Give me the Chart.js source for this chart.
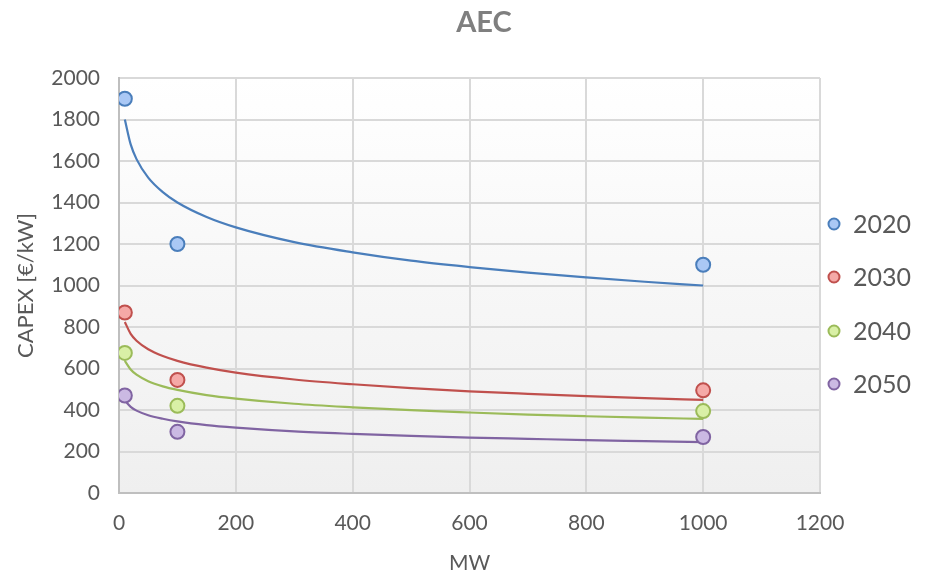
<!DOCTYPE html>
<html><head><meta charset="utf-8">
<script src="https://cdn.jsdelivr.net/npm/chart.js@4/dist/chart.umd.min.js"></script>
<style>html,body{margin:0;padding:0;background:#fff;}#wrap{width:948px;height:576px;}</style>
</head><body><div id="wrap"><canvas id="c" width="948" height="576"></canvas></div>
<script>
// Measured points (MW, CAPEX €/kW)
const capacityMW = [10, 100, 1000];
const capex2020 = [1900, 1200, 1100];
const capex2030 = [870, 545, 495];
const capex2040 = [675, 420, 395];
const capex2050 = [470, 295, 270];
// Trendline values
const trendX = [10, 20, 30, 50, 75, 100, 150, 200, 300, 400, 500, 600, 700, 800, 900, 1000];
const trend2020 = [1800, 1680, 1609, 1520, 1450, 1400, 1330, 1280, 1209, 1160, 1120, 1089, 1062, 1039, 1018, 1000];
const trend2030 = [824, 767, 734, 693, 660, 637, 604, 580, 547, 524, 505, 490, 478, 467, 457, 449];
const trend2040 = [637, 595, 570, 539, 514, 497, 472, 455, 430, 413, 399, 388, 378, 370, 363, 357];
const trend2050 = [445, 415, 397, 375, 358, 345, 327, 315, 297, 285, 275, 267, 261, 255, 250, 245];
const seriesLabels = ['2020', '2030', '2040', '2050'];
const xTicks = [0, 200, 400, 600, 800, 1000, 1200];
const yTicks = [0, 200, 400, 600, 800, 1000, 1200, 1400, 1600, 1800, 2000];
const chartTitle = 'AEC';

const lineColors = ['#4a7ebb', '#c0504d', '#9bbb59', '#8064a2'];
const fillColors = ['#aac8f5', '#f5a9a7', '#d9f0a6', '#cbb9e3'];
const pts = [capex2020, capex2030, capex2040, capex2050];
const trends = [trend2020, trend2030, trend2040, trend2050];

const datasets = [];
pts.forEach((arr, i) => {
  datasets.push({
    label: seriesLabels[i], type: 'scatter', order: 0,
    data: capacityMW.map((x, k) => ({x, y: arr[k]})),
    pointRadius: 7, pointHoverRadius: 7, pointBorderWidth: 2,
    backgroundColor: fillColors[i], borderColor: lineColors[i], showLine: false
  });
});
trends.forEach((arr, i) => {
  datasets.push({
    label: 'trend' + seriesLabels[i], type: 'scatter', order: 1,
    data: trendX.map((x, k) => ({x, y: arr[k]})),
    showLine: true, pointRadius: 0, borderWidth: 2.2, borderColor: lineColors[i],
    backgroundColor: lineColors[i], cubicInterpolationMode: 'monotone', fill: false
  });
});

const bgPlugin = {
  id: 'bg',
  beforeDraw(chart) {
    const {ctx, chartArea: a} = chart;
    const g = ctx.createLinearGradient(0, a.top, 0, a.bottom);
    g.addColorStop(0, '#ffffff');
    g.addColorStop(1, '#efefef');
    ctx.save(); ctx.fillStyle = g;
    ctx.fillRect(a.left, a.top, a.right - a.left, a.bottom - a.top);
    ctx.restore();
  }
};
const textPlugin = {
  id: 'texts',
  afterDraw(chart) {
    const ctx = chart.ctx;
    ctx.save();
    ctx.fillStyle = '#7f7f7f';
    ctx.font = 'bold 29px Lato';
    ctx.textAlign = 'center'; ctx.textBaseline = 'middle';
    ctx.fillText(chartTitle, 484, 23);
    const ys = [224, 277, 331, 384];
    seriesLabels.forEach((lab, i) => {
      ctx.beginPath();
      ctx.arc(834, ys[i], 5.5, 0, Math.PI * 2);
      ctx.fillStyle = fillColors[i]; ctx.fill();
      ctx.lineWidth = 2; ctx.strokeStyle = lineColors[i]; ctx.stroke();
      ctx.fillStyle = '#595959';
      ctx.font = '25px Lato';
      ctx.textBaseline = 'middle'; ctx.textAlign = 'left';
      ctx.fillText(lab, 853, ys[i] + 1);
    });
    ctx.restore();
  }
};

new Chart(document.getElementById('c'), {
  type: 'scatter',
  data: {datasets},
  options: {
    responsive: false, animation: false, devicePixelRatio: 1,
    layout: {padding: {left: 13, right: 128, top: 78, bottom: 0}},
    plugins: {legend: {display: false}, tooltip: {enabled: false}, title: {display: false}},
    scales: {
      x: {
        type: 'linear', min: 0, max: 1200,
        afterBuildTicks: ax => { ax.ticks = xTicks.map(v => ({value: v})); },
        afterFit: ax => { ax.height = 83; },
        grid: {color: '#d9d9d9', lineWidth: 2, drawTicks: false},
        border: {color: '#bfbfbf', width: 2},
        ticks: {color: '#595959', font: {family: 'Lato', size: 21}, padding: 18, callback: v => String(v)},
        title: {display: true, text: 'MW', color: '#595959', font: {family: 'Lato', size: 21}, padding: {top: 0, bottom: 0}}
      },
      y: {
        type: 'linear', min: 0, max: 2000,
        afterBuildTicks: ax => { ax.ticks = yTicks.map(v => ({value: v})); },
        afterFit: ax => { ax.width = 106; },
        grid: {color: '#d9d9d9', lineWidth: 2, drawTicks: false},
        border: {color: '#bfbfbf', width: 2},
        ticks: {color: '#595959', font: {family: 'Lato', size: 21}, padding: 19, callback: v => String(v)},
        title: {display: true, text: 'CAPEX [€/kW]', color: '#595959', font: {family: 'Lato', size: 22}, padding: {top: 0, bottom: 0}}
      }
    }
  },
  plugins: [bgPlugin, textPlugin]
});
</script></body></html>
